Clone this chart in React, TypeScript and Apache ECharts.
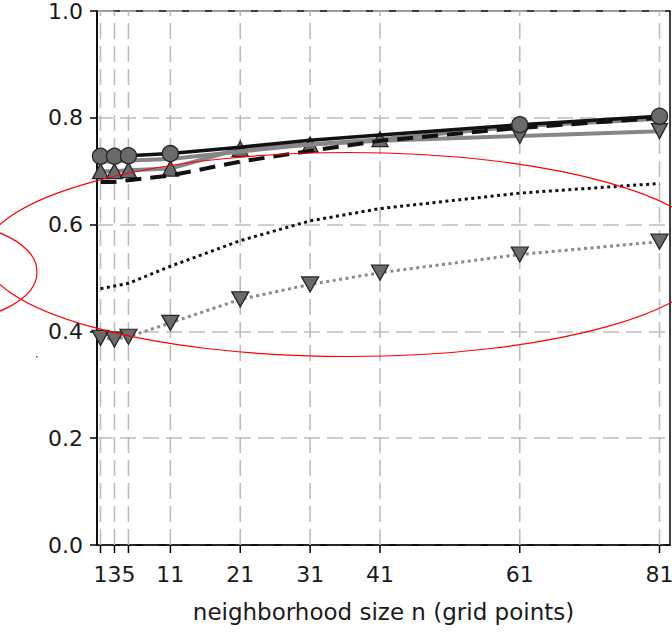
import React, { useEffect, useRef } from "react";
import * as echarts from "echarts";

// neighborhood sizes (x) and tick labels
const nValues = [1, 3, 5, 11, 21, 31, 41, 61, 81];
const xTicks = [1, 3, 5, 11, 21, 31, 41, 61, 81];
const yTicks = [0, 0.2, 0.4, 0.6, 0.8, 1.0];

// series values
const blackSolid = [0.728, 0.728, 0.729, 0.733, 0.745, 0.758, 0.768, 0.787, 0.803];
const blackSolidMarks = [1, 3, 5, 11, 61, 81];
const graySolid = [0.718, 0.718, 0.72, 0.723, 0.737, 0.75, 0.757, 0.766, 0.775];
const graySolidMarks = [61, 81];
const grayUp = [0.7, 0.7, 0.702, 0.705, 0.742, 0.75, 0.76, 0.784, 0.798];
const grayUpMarks = [1, 3, 5, 11, 21, 31, 41];
const blackDashed = [0.68, 0.68, 0.683, 0.692, 0.718, 0.738, 0.757, 0.781, 0.8];
const blackDotted = [0.48, 0.485, 0.49, 0.522, 0.57, 0.607, 0.63, 0.659, 0.677];
const grayDotted = [0.388, 0.385, 0.39, 0.416, 0.46, 0.488, 0.51, 0.544, 0.568];
const grayDottedMarks = [1, 3, 5, 11, 21, 31, 41, 61, 81];

const FONT = '"DejaVu Sans", sans-serif';

function pts(ys: number[], marks: number[] | null, symbol: string) {
  return nValues.map((x, i) => ({
    value: [x, ys[i]],
    symbol: marks && marks.includes(x) ? symbol : "none",
  }));
}

export default function App() {
  const ref = useRef<HTMLDivElement>(null);
  useEffect(() => {
    if (!ref.current) return;
    const chart = echarts.init(ref.current, null, { renderer: "svg" });
    const markerFill = "#6a6a6a";
    const markerEdge = "#262626";
    chart.setOption({
      animation: false,
      grid: {
        left: 97,
        top: 11,
        right: 2,
        bottom: 90,
        show: true,
        borderColor: "#000",
        borderWidth: 1.5,
        backgroundColor: "transparent",
      },
      xAxis: {
        type: "value",
        min: 0.5,
        max: 82.5,
        axisLine: { show: true, lineStyle: { color: "#000", width: 1.5 } },
        axisTick: { show: false },
        axisLabel: { show: false },
        splitLine: { show: false },
        name: "neighborhood size n (grid points)",
        nameLocation: "middle",
        nameGap: 55,
        nameTextStyle: { fontSize: 23, fontFamily: FONT, color: "#1a1a1a" },
      },
      yAxis: {
        type: "value",
        min: yTicks[0],
        max: yTicks[yTicks.length - 1],
        interval: 0.2,
        axisLine: { show: true, lineStyle: { color: "#000", width: 1.5 } },
        axisTick: { show: true, length: 7, lineStyle: { color: "#000", width: 1.5 } },
        axisLabel: {
          formatter: (v: number) => v.toFixed(1),
          fontSize: 22,
          fontFamily: FONT,
          color: "#1a1a1a",
          margin: 14,
        },
        splitLine: {
          show: true,
          lineStyle: { color: "#bdbdbd", width: 1.6, type: [16, 7] },
        },
      },
      series: [
        {
          type: "custom",
          silent: true,
          clip: false,
          z: 1,
          encode: { x: 0, y: 1 },
          data: xTicks.map((v) => [v, 0]),
          renderItem: (params: any, api: any) => {
            const v = api.value(0);
            const b = api.coord([v, 0]);
            const t = api.coord([v, 1]);
            return {
              type: "group",
              children: [
                {
                  type: "line",
                  shape: { x1: b[0], y1: b[1], x2: t[0], y2: t[1] },
                  style: { stroke: "#bdbdbd", lineWidth: 1.6, lineDash: [16, 7] },
                },
                {
                  type: "line",
                  shape: { x1: b[0], y1: b[1], x2: b[0], y2: b[1] + 8 },
                  style: { stroke: "#000", lineWidth: 1.5 },
                },
                {
                  type: "text",
                  x: b[0],
                  y: b[1] + 18,
                  style: {
                    text: String(v),
                    font: `22px ${FONT}`,
                    fill: "#1a1a1a",
                    align: "center",
                    verticalAlign: "top",
                  },
                },
              ],
            };
          },
        },
        {
          type: "line",
          z: 3,
          data: pts(grayDotted, grayDottedMarks, "triangle"),
          symbolSize: [17, 15],
          symbolRotate: 180,
          lineStyle: { color: "#8a8a8a", width: 3, type: [3, 3.5] },
          itemStyle: { color: markerFill, borderColor: markerEdge, borderWidth: 1.3 },
        },
        {
          type: "line",
          z: 3,
          data: pts(blackDotted, null, "none"),
          lineStyle: { color: "#111", width: 3, type: [3, 3.5] },
        },
        {
          type: "line",
          z: 4,
          data: pts(grayUp, grayUpMarks, "triangle"),
          symbolSize: [16, 15],
          lineStyle: { color: "#868686", width: 4 },
          itemStyle: { color: markerFill, borderColor: markerEdge, borderWidth: 1.3 },
        },
        {
          type: "line",
          z: 5,
          data: pts(graySolid, graySolidMarks, "triangle"),
          symbolSize: [16, 15],
          symbolRotate: 180,
          lineStyle: { color: "#868686", width: 4 },
          itemStyle: { color: markerFill, borderColor: markerEdge, borderWidth: 1.3 },
        },
        {
          type: "line",
          z: 6,
          data: pts(blackDashed, null, "none"),
          lineStyle: { color: "#111", width: 4, type: [16, 9] },
        },
        {
          type: "line",
          z: 7,
          data: pts(blackSolid, blackSolidMarks, "circle"),
          symbolSize: 16,
          lineStyle: { color: "#111", width: 3.5 },
          itemStyle: { color: markerFill, borderColor: markerEdge, borderWidth: 1.3 },
        },
      ],
      graphic: [
        {
          type: "ellipse",
          silent: true,
          z: 100,
          shape: { cx: 349, cy: 254.5, rx: 365, ry: 102 },
          style: { fill: "none", stroke: "#ff0000", lineWidth: 1.2 },
        },
        {
          type: "ellipse",
          silent: true,
          z: 100,
          shape: { cx: -62, cy: 272, rx: 99, ry: 50 },
          style: { fill: "none", stroke: "#ff0000", lineWidth: 1.2 },
        },
        {
          type: "rect",
          silent: true,
          z: 100,
          shape: { x: 36, y: 356, width: 1.5, height: 1.5 },
          style: { fill: "#ff0000" },
        },
      ],
    });
    return () => chart.dispose();
  }, []);
  return (
    <div
      ref={ref}
      style={{ position: "absolute", left: 0, top: 0, width: 672, height: 635 }}
    />
  );
}
